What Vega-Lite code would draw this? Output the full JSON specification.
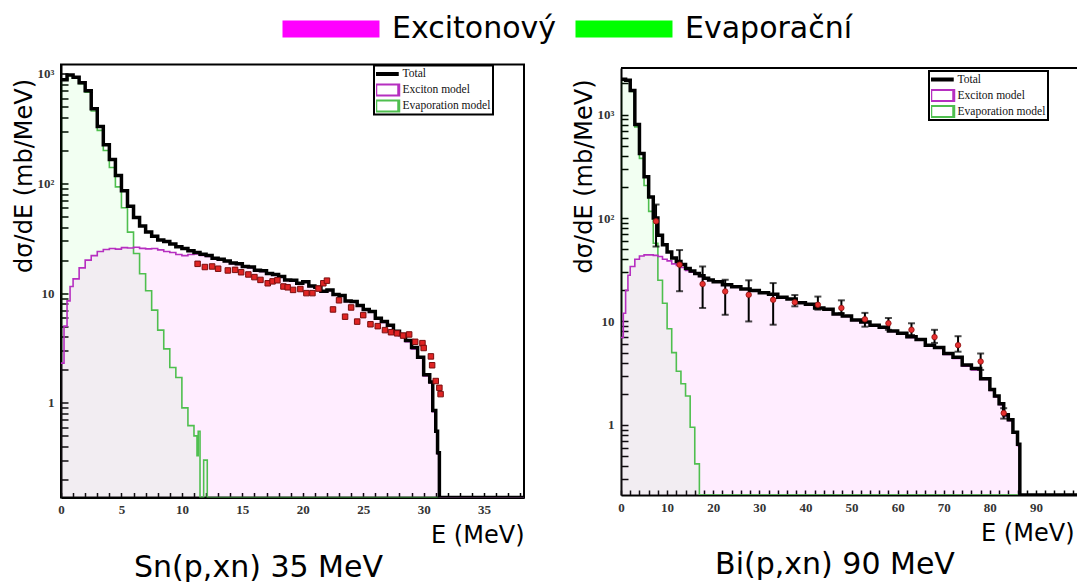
{
  "$schema": "https://vega.github.io/schema/vega-lite/v6.json",
  "background": "white",
  "padding": {"left": 11, "top": 13.5, "right": 0, "bottom": 0},
  "spacing": 47,
  "center": true,
  "datasets": {
    "snTotal": [
      {"E": 0, "v": 880}, {"E": 0.5, "v": 975}, {"E": 1, "v": 930}, {"E": 1.5, "v": 830}, {"E": 2, "v": 700},
      {"E": 2.5, "v": 480}, {"E": 3, "v": 330}, {"E": 3.5, "v": 225}, {"E": 4, "v": 165}, {"E": 4.5, "v": 118},
      {"E": 5, "v": 86}, {"E": 5.5, "v": 62}, {"E": 6, "v": 49}, {"E": 6.5, "v": 41}, {"E": 7, "v": 36},
      {"E": 7.5, "v": 33}, {"E": 8, "v": 30.5}, {"E": 8.5, "v": 29.5}, {"E": 9, "v": 28}, {"E": 9.5, "v": 26.5},
      {"E": 10, "v": 25.5}, {"E": 10.5, "v": 24.3}, {"E": 11, "v": 23.5}, {"E": 11.5, "v": 22.6}, {"E": 12, "v": 22},
      {"E": 12.5, "v": 20.8}, {"E": 13, "v": 20.4}, {"E": 13.5, "v": 19.6}, {"E": 14, "v": 18.8}, {"E": 14.5, "v": 18.5},
      {"E": 15, "v": 17.5}, {"E": 15.5, "v": 17.3}, {"E": 16, "v": 16.2}, {"E": 16.5, "v": 16}, {"E": 17, "v": 15.1},
      {"E": 17.5, "v": 14.8}, {"E": 18, "v": 14.2}, {"E": 18.5, "v": 13.2}, {"E": 19, "v": 13.1}, {"E": 19.5, "v": 12.3},
      {"E": 20, "v": 12.7}, {"E": 20.5, "v": 11.6}, {"E": 21, "v": 11.3}, {"E": 21.5, "v": 10.4}, {"E": 22, "v": 10.7},
      {"E": 22.5, "v": 9.7}, {"E": 23, "v": 9.5}, {"E": 23.5, "v": 8.5}, {"E": 24, "v": 8.4}, {"E": 24.5, "v": 7.7},
      {"E": 25, "v": 7.1}, {"E": 25.5, "v": 6.8}, {"E": 26, "v": 5.9}, {"E": 26.5, "v": 5.5}, {"E": 27, "v": 5.1},
      {"E": 27.5, "v": 4.5}, {"E": 28, "v": 4.2}, {"E": 28.5, "v": 3.7}, {"E": 29, "v": 3.2}, {"E": 29.5, "v": 2.6},
      {"E": 30, "v": 1.8}, {"E": 30.5, "v": 1.55}, {"E": 30.75, "v": 0.85}, {"E": 31, "v": 0.55}, {"E": 31.15, "v": 0.35},
      {"E": 31.3, "v": 0.137}, {"E": 38.3, "v": 0.137}
    ],
    "snExc": [
      {"E": 0, "v": 2.3}, {"E": 0.25, "v": 5}, {"E": 0.5, "v": 8.5}, {"E": 0.75, "v": 11.5}, {"E": 1, "v": 13.5},
      {"E": 1.5, "v": 17}, {"E": 2, "v": 20}, {"E": 2.5, "v": 22}, {"E": 3, "v": 24}, {"E": 3.5, "v": 25},
      {"E": 4, "v": 25.5}, {"E": 4.5, "v": 25.2}, {"E": 5, "v": 26}, {"E": 5.5, "v": 25.8}, {"E": 6, "v": 26.2},
      {"E": 6.5, "v": 25.6}, {"E": 7, "v": 25.3}, {"E": 7.5, "v": 25.5}, {"E": 8, "v": 24.8}, {"E": 8.5, "v": 24},
      {"E": 9, "v": 23.5}, {"E": 9.5, "v": 22.5}, {"E": 10, "v": 22}, {"E": 10.5, "v": 22.5}, {"E": 11, "v": 22.8},
      {"E": 11.5, "v": 22.1}, {"E": 12, "v": 21.6}, {"E": 12.5, "v": 20.5}, {"E": 13, "v": 20.1}, {"E": 13.5, "v": 19.4},
      {"E": 14, "v": 18.6}, {"E": 14.5, "v": 18.3}, {"E": 15, "v": 17.3}, {"E": 15.5, "v": 17.1}, {"E": 16, "v": 16},
      {"E": 16.5, "v": 15.8}, {"E": 17, "v": 15}, {"E": 17.5, "v": 14.6}, {"E": 18, "v": 14.1}, {"E": 18.5, "v": 13.1},
      {"E": 19, "v": 13}, {"E": 19.5, "v": 12.2}, {"E": 20, "v": 12.6}, {"E": 20.5, "v": 11.5}, {"E": 21, "v": 11.2},
      {"E": 21.5, "v": 10.3}, {"E": 22, "v": 10.6}, {"E": 22.5, "v": 9.6}, {"E": 23, "v": 9.4}, {"E": 23.5, "v": 8.4},
      {"E": 24, "v": 8.3}, {"E": 24.5, "v": 7.6}, {"E": 25, "v": 7}, {"E": 25.5, "v": 6.7}, {"E": 26, "v": 5.8},
      {"E": 26.5, "v": 5.4}, {"E": 27, "v": 5}, {"E": 27.5, "v": 4.4}, {"E": 28, "v": 4.1}, {"E": 28.5, "v": 3.6},
      {"E": 29, "v": 3.1}, {"E": 29.5, "v": 2.55}, {"E": 30, "v": 1.76}, {"E": 30.5, "v": 1.52}, {"E": 30.75, "v": 0.83},
      {"E": 31, "v": 0.54}, {"E": 31.15, "v": 0.34}, {"E": 31.3, "v": 0.137}, {"E": 38.3, "v": 0.137}
    ],
    "snEvap": [
      {"E": 0, "v": 875}, {"E": 0.5, "v": 965}, {"E": 1, "v": 915}, {"E": 1.5, "v": 812}, {"E": 2, "v": 680},
      {"E": 2.5, "v": 458}, {"E": 3, "v": 305}, {"E": 3.5, "v": 200}, {"E": 4, "v": 140}, {"E": 4.5, "v": 93},
      {"E": 5, "v": 60}, {"E": 5.5, "v": 36}, {"E": 6, "v": 23}, {"E": 6.5, "v": 15}, {"E": 7, "v": 10.5},
      {"E": 7.5, "v": 7}, {"E": 8, "v": 4.6}, {"E": 8.5, "v": 3.1}, {"E": 9, "v": 2.1}, {"E": 9.5, "v": 1.7},
      {"E": 10, "v": 0.9}, {"E": 10.5, "v": 0.62}, {"E": 11, "v": 0.5}, {"E": 11.25, "v": 0.33}, {"E": 11.35, "v": 0.55},
      {"E": 11.5, "v": 0.137}, {"E": 11.8, "v": 0.3}, {"E": 12.1, "v": 0.137}, {"E": 38.3, "v": 0.137}
    ],
    "snData": [
      {"E": 11.3, "v": 18.5}, {"E": 11.9, "v": 17.3}, {"E": 12.5, "v": 17.5}, {"E": 13.0, "v": 16.7}, {"E": 13.8, "v": 16.1},
      {"E": 14.4, "v": 16.3}, {"E": 14.9, "v": 15.5}, {"E": 15.5, "v": 14.8}, {"E": 16.0, "v": 14.0}, {"E": 16.5, "v": 13.2},
      {"E": 17.1, "v": 12.3}, {"E": 17.5, "v": 12.8}, {"E": 17.9, "v": 13.1}, {"E": 18.4, "v": 11.5}, {"E": 18.75, "v": 11.3},
      {"E": 19.2, "v": 10.7}, {"E": 19.8, "v": 10.9}, {"E": 20.3, "v": 10.0}, {"E": 20.8, "v": 10.0}, {"E": 21.3, "v": 11.0},
      {"E": 21.7, "v": 12.3}, {"E": 22.0, "v": 13.0}, {"E": 22.5, "v": 7.1}, {"E": 23.0, "v": 8.6}, {"E": 23.5, "v": 6.1},
      {"E": 24.0, "v": 7.4}, {"E": 24.5, "v": 5.5}, {"E": 25.0, "v": 6.3}, {"E": 25.6, "v": 5.2}, {"E": 26.2, "v": 5.0},
      {"E": 26.8, "v": 4.6}, {"E": 27.3, "v": 4.4}, {"E": 27.8, "v": 4.3}, {"E": 28.3, "v": 4.1}, {"E": 28.8, "v": 4.2},
      {"E": 29.3, "v": 3.6}, {"E": 29.9, "v": 3.5}, {"E": 30.0, "v": 3.16}, {"E": 30.6, "v": 2.65}, {"E": 30.7, "v": 2.2},
      {"E": 31.0, "v": 1.58}, {"E": 31.3, "v": 1.37}, {"E": 31.4, "v": 1.2}
    ],
    "biTotal": [
      {"E": 0, "v": 2200}, {"E": 1, "v": 2150}, {"E": 2, "v": 1710}, {"E": 3, "v": 800}, {"E": 4, "v": 420},
      {"E": 5, "v": 250}, {"E": 6, "v": 160}, {"E": 7, "v": 100}, {"E": 8, "v": 68}, {"E": 9, "v": 55},
      {"E": 10, "v": 47}, {"E": 11, "v": 41}, {"E": 12, "v": 38}, {"E": 13, "v": 35.5}, {"E": 14, "v": 32.5},
      {"E": 15, "v": 30.8}, {"E": 16, "v": 29}, {"E": 17, "v": 27.6}, {"E": 18, "v": 26.2}, {"E": 19, "v": 25.2},
      {"E": 20, "v": 24.2}, {"E": 22, "v": 22.6}, {"E": 24, "v": 21.7}, {"E": 26, "v": 20.6}, {"E": 28, "v": 19.9},
      {"E": 30, "v": 18.9}, {"E": 32, "v": 18.3}, {"E": 34, "v": 17.1}, {"E": 36, "v": 16.5}, {"E": 38, "v": 15.2},
      {"E": 40, "v": 14.7}, {"E": 42, "v": 13.5}, {"E": 44, "v": 13.1}, {"E": 46, "v": 11.8}, {"E": 48, "v": 11.3},
      {"E": 50, "v": 10.3}, {"E": 52, "v": 9.9}, {"E": 54, "v": 9.2}, {"E": 56, "v": 8.8}, {"E": 58, "v": 8.1},
      {"E": 60, "v": 7.7}, {"E": 62, "v": 7.1}, {"E": 64, "v": 6.7}, {"E": 66, "v": 5.9}, {"E": 68, "v": 5.6},
      {"E": 70, "v": 4.9}, {"E": 72, "v": 4.5}, {"E": 74, "v": 3.8}, {"E": 76, "v": 3.5}, {"E": 78, "v": 2.8},
      {"E": 80, "v": 2.2}, {"E": 81, "v": 1.9}, {"E": 82, "v": 1.6}, {"E": 83, "v": 1.25}, {"E": 84, "v": 1.12},
      {"E": 85, "v": 0.85}, {"E": 86, "v": 0.65}, {"E": 86.5, "v": 0.21}, {"E": 98.9, "v": 0.21}
    ],
    "biExc": [
      {"E": 0, "v": 7}, {"E": 0.5, "v": 12}, {"E": 1, "v": 20}, {"E": 1.5, "v": 28}, {"E": 2, "v": 34},
      {"E": 3, "v": 40}, {"E": 4, "v": 43}, {"E": 5, "v": 44}, {"E": 6, "v": 44}, {"E": 7, "v": 43.5},
      {"E": 8, "v": 42.5}, {"E": 9, "v": 40}, {"E": 10, "v": 38.5}, {"E": 11, "v": 36}, {"E": 12, "v": 34.7},
      {"E": 13, "v": 33.2}, {"E": 14, "v": 31.2}, {"E": 15, "v": 30}, {"E": 16, "v": 28.6}, {"E": 17, "v": 27.3},
      {"E": 18, "v": 26}, {"E": 19, "v": 25}, {"E": 20, "v": 24.1}, {"E": 22, "v": 22.5}, {"E": 24, "v": 21.6},
      {"E": 26, "v": 20.5}, {"E": 28, "v": 19.8}, {"E": 30, "v": 18.8}, {"E": 32, "v": 18.2}, {"E": 34, "v": 17},
      {"E": 36, "v": 16.4}, {"E": 38, "v": 15.1}, {"E": 40, "v": 14.6}, {"E": 42, "v": 13.4}, {"E": 44, "v": 13},
      {"E": 46, "v": 11.7}, {"E": 48, "v": 11.2}, {"E": 50, "v": 10.2}, {"E": 52, "v": 9.8}, {"E": 54, "v": 9.1},
      {"E": 56, "v": 8.7}, {"E": 58, "v": 8}, {"E": 60, "v": 7.6}, {"E": 62, "v": 7}, {"E": 64, "v": 6.6},
      {"E": 66, "v": 5.8}, {"E": 68, "v": 5.5}, {"E": 70, "v": 4.8}, {"E": 72, "v": 4.4}, {"E": 74, "v": 3.7},
      {"E": 76, "v": 3.4}, {"E": 78, "v": 2.75}, {"E": 80, "v": 2.15}, {"E": 81, "v": 1.86}, {"E": 82, "v": 1.57},
      {"E": 83, "v": 1.22}, {"E": 84, "v": 1.1}, {"E": 85, "v": 0.83}, {"E": 86, "v": 0.63}, {"E": 86.5, "v": 0.21},
      {"E": 98.9, "v": 0.21}
    ],
    "biEvap": [
      {"E": 0, "v": 2190}, {"E": 1, "v": 2130}, {"E": 2, "v": 1670}, {"E": 3, "v": 760}, {"E": 4, "v": 377},
      {"E": 5, "v": 206}, {"E": 6, "v": 116}, {"E": 7, "v": 57}, {"E": 8, "v": 25}, {"E": 9, "v": 15},
      {"E": 10, "v": 8.5}, {"E": 11, "v": 5}, {"E": 12, "v": 3.3}, {"E": 13, "v": 2.5}, {"E": 14, "v": 1.9},
      {"E": 15, "v": 0.95}, {"E": 16, "v": 0.42}, {"E": 17, "v": 0.21}, {"E": 98.9, "v": 0.21}
    ],
    "biData": [
      {"E": 7.6, "v": 93, "lo": 53, "hi": 135},
      {"E": 12.7, "v": 35.4, "lo": 19.6, "hi": 49},
      {"E": 17.7, "v": 23, "lo": 13.5, "hi": 34},
      {"E": 22.6, "v": 19.5, "lo": 11.6, "hi": 25.3},
      {"E": 27.7, "v": 18.1, "lo": 10, "hi": 25},
      {"E": 33.0, "v": 16.2, "lo": 9.3, "hi": 23.5},
      {"E": 37.7, "v": 15.3, "lo": 14, "hi": 18},
      {"E": 42.7, "v": 14.5, "lo": 13, "hi": 17.4},
      {"E": 47.8, "v": 13.5, "lo": 12, "hi": 16},
      {"E": 52.9, "v": 10.5, "lo": 8.9, "hi": 12.1},
      {"E": 58.0, "v": 9.6, "lo": 8.3, "hi": 10.8},
      {"E": 63.0, "v": 8.3, "lo": 7.4, "hi": 9.6},
      {"E": 68.0, "v": 7.06, "lo": 6.2, "hi": 8.3},
      {"E": 73.1, "v": 5.9, "lo": 5.1, "hi": 7.2},
      {"E": 78.0, "v": 4.1, "lo": 3.4, "hi": 4.9},
      {"E": 83.0, "v": 1.3, "lo": 1.15, "hi": 1.45}
    ]
  },
  "hconcat": [
    {
      "width": 463,
      "height": 433,
      "title": {"text": "Sn(p,xn) 35 MeV", "orient": "bottom", "anchor": "middle", "frame": "group", "dx": -34, "offset": 5},
      "encoding": {
        "x": {
          "field": "E", "type": "quantitative",
          "scale": {"domain": [0, 38.3], "nice": false, "zero": false},
          "axis": {
            "values": [0,1,2,3,4,5,6,7,8,9,10,11,12,13,14,15,16,17,18,19,20,21,22,23,24,25,26,27,28,29,30,31,32,33,34,35,36,37,38],
            "labelExpr": "datum.value % 5 === 0 ? datum.label : ''",
            "labelFlush": false, "labelOverlap": false,
            "tickSize": -5, "labelPadding": 11,
            "title": "E (MeV)", "titleAnchor": "end", "titleAlign": "right", "titleBaseline": "alphabetic",
            "titleX": 463, "titleY": 45,
            "encode": {"ticks": {"update": {"y2": {"signal": "datum.value % 5 === 0 ? -11 : -5"}}}}
          }
        },
        "y": {
          "field": "v", "type": "quantitative", "stack": null,
          "scale": {"type": "log", "domain": [0.137, 1215], "nice": false},
          "axis": {
            "values": [0.2,0.3,0.4,0.5,0.6,0.7,0.8,0.9,1,2,3,4,5,6,7,8,9,10,20,30,40,50,60,70,80,90,100,200,300,400,500,600,700,800,900,1000],
            "labelExpr": "datum.value === 1 ? '1' : datum.value === 10 ? '10' : datum.value === 100 ? '10²' : datum.value === 1000 ? '10³' : ''",
            "labelOverlap": false,
            "tickSize": -7, "labelPadding": 14,
            "title": "dσ/dE (mb/MeV)", "titleAngle": 270, "titleAlign": "right", "titleBaseline": "middle",
            "titleX": -37, "titleY": 14,
            "encode": {"ticks": {"update": {"x2": {"signal": "abs(log(datum.value)/LN10 - round(log(datum.value)/LN10)) < 0.001 ? 14 : 7"}}}}
          }
        }
      },
      "layer": [
        {
          "data": {"name": "snExc"},
          "mark": {"type": "area", "interpolate": "step-after", "fillOpacity": 0.07, "clip": true},
          "encoding": {
            "y2": {"datum": 0.137},
            "fill": {"datum": "Excitonový", "type": "nominal",
              "scale": {"domain": ["Excitonový", "Evaporační"], "range": ["#ff00ff", "#00ff00"]},
              "legend": {"orient": "none", "legendX": 215, "legendY": -50.5, "direction": "horizontal", "title": null, "padding": 0,
                "symbolType": "M-1,-1h11.41v2h-11.41z", "symbolSize": 289, "labelFont": "DejaVu Sans", "labelFontSize": 30,
                "labelColor": "black", "labelOffset": 86, "columnPadding": 12, "labelLimit": 400,
                "encode": {"symbols": {"update": {"fillOpacity": {"value": 1}, "opacity": {"value": 1}, "strokeWidth": {"value": 0}}}}}}
          }
        },
        {
          "data": {"name": "snEvap"},
          "mark": {"type": "area", "interpolate": "step-after", "fillOpacity": 0.05, "clip": true},
          "encoding": {
            "y2": {"datum": 0.137},
            "fill": {"datum": "Evaporační", "type": "nominal",
              "scale": {"domain": ["Excitonový", "Evaporační"], "range": ["#ff00ff", "#00ff00"]},
              "legend": {"orient": "none", "legendX": 215, "legendY": -50.5, "direction": "horizontal", "title": null, "padding": 0,
                "symbolType": "M-1,-1h11.41v2h-11.41z", "symbolSize": 289, "labelFont": "DejaVu Sans", "labelFontSize": 30,
                "labelColor": "black", "labelOffset": 86, "columnPadding": 12, "labelLimit": 400,
                "encode": {"symbols": {"update": {"fillOpacity": {"value": 1}, "opacity": {"value": 1}, "strokeWidth": {"value": 0}}}}}}
          }
        },
        {
          "data": {"name": "snEvap"},
          "mark": {"type": "line", "interpolate": "step-after", "strokeWidth": 1.6, "clip": true},
          "encoding": {
            "stroke": {"datum": "Evaporation model", "type": "nominal",
              "scale": {"domain": ["Total", "Exciton model", "Evaporation model"], "range": ["black", "#b62fc0", "#4fbf4f"]},
              "legend": {"orient": "none", "legendX": 313, "legendY": 1, "title": null, "padding": 2, "rowPadding": 3, "clipHeight": 13,
                "strokeColor": "black", "fillColor": "white", "symbolType": "M-1,-1h3.833v2h-3.833z", "symbolSize": 144,
                "symbolStrokeWidth": 3, "labelFont": "Liberation Serif", "labelFontSize": 11.5, "labelColor": "#111", "labelOffset": 15,
                "encode": {
                  "legend": {"update": {"strokeWidth": {"value": 2}}},
                  "symbols": {"update": {
                    "shape": {"signal": "datum.value === 'Total' ? 'M-1,0h3.833' : 'M-1,-1h3.833v2h-3.833z'"},
                    "strokeWidth": {"signal": "datum.value === 'Total' ? 4 : 3"},
                    "fill": {"value": "white"}, "fillOpacity": {"value": 1}, "opacity": {"value": 1}}}}}}
          }
        },
        {
          "data": {"name": "snExc"},
          "mark": {"type": "line", "interpolate": "step-after", "strokeWidth": 1.6, "clip": true},
          "encoding": {
            "stroke": {"datum": "Exciton model", "type": "nominal",
              "scale": {"domain": ["Total", "Exciton model", "Evaporation model"], "range": ["black", "#b62fc0", "#4fbf4f"]},
              "legend": {"orient": "none", "legendX": 313, "legendY": 1, "title": null, "padding": 2, "rowPadding": 3, "clipHeight": 13,
                "strokeColor": "black", "fillColor": "white", "symbolType": "M-1,-1h3.833v2h-3.833z", "symbolSize": 144,
                "symbolStrokeWidth": 3, "labelFont": "Liberation Serif", "labelFontSize": 11.5, "labelColor": "#111", "labelOffset": 15,
                "encode": {
                  "legend": {"update": {"strokeWidth": {"value": 2}}},
                  "symbols": {"update": {
                    "shape": {"signal": "datum.value === 'Total' ? 'M-1,0h3.833' : 'M-1,-1h3.833v2h-3.833z'"},
                    "strokeWidth": {"signal": "datum.value === 'Total' ? 4 : 3"},
                    "fill": {"value": "white"}, "fillOpacity": {"value": 1}, "opacity": {"value": 1}}}}}}
          }
        },
        {
          "data": {"name": "snTotal"},
          "mark": {"type": "line", "interpolate": "step-after", "strokeWidth": 3.5, "clip": true},
          "encoding": {
            "stroke": {"datum": "Total", "type": "nominal",
              "scale": {"domain": ["Total", "Exciton model", "Evaporation model"], "range": ["black", "#b62fc0", "#4fbf4f"]},
              "legend": {"orient": "none", "legendX": 313, "legendY": 1, "title": null, "padding": 2, "rowPadding": 3, "clipHeight": 13,
                "strokeColor": "black", "fillColor": "white", "symbolType": "M-1,-1h3.833v2h-3.833z", "symbolSize": 144,
                "symbolStrokeWidth": 3, "labelFont": "Liberation Serif", "labelFontSize": 11.5, "labelColor": "#111", "labelOffset": 15,
                "encode": {
                  "legend": {"update": {"strokeWidth": {"value": 2}}},
                  "symbols": {"update": {
                    "shape": {"signal": "datum.value === 'Total' ? 'M-1,0h3.833' : 'M-1,-1h3.833v2h-3.833z'"},
                    "strokeWidth": {"signal": "datum.value === 'Total' ? 4 : 3"},
                    "fill": {"value": "white"}, "fillOpacity": {"value": 1}, "opacity": {"value": 1}}}}}}
          }
        },
        {
          "data": {"name": "snData"},
          "mark": {"type": "point", "shape": "square", "filled": true, "size": 30, "color": "#e02424", "stroke": "#7a0e0e", "strokeWidth": 1, "opacity": 1, "clip": true}
        }
      ]
    },
    {
      "width": 456,
      "height": 427,
      "view": {"stroke": null},
      "title": {"text": "Bi(p,xn) 90 MeV", "orient": "bottom", "anchor": "middle", "frame": "group", "dx": -14, "offset": 5},
      "encoding": {
        "x": {
          "field": "E", "type": "quantitative",
          "scale": {"domain": [0, 98.9], "nice": false, "zero": false},
          "axis": {
            "values": [0,2,4,6,8,10,12,14,16,18,20,22,24,26,28,30,32,34,36,38,40,42,44,46,48,50,52,54,56,58,60,62,64,66,68,70,72,74,76,78,80,82,84,86,88,90,92,94,96,98],
            "labelExpr": "datum.value % 10 === 0 ? datum.label : ''",
            "labelFlush": false, "labelOverlap": false,
            "tickSize": -5, "labelPadding": 11,
            "title": "E (MeV)", "titleAnchor": "end", "titleAlign": "right", "titleBaseline": "alphabetic",
            "titleX": 453, "titleY": 45,
            "encode": {"ticks": {"update": {"y2": {"signal": "datum.value % 10 === 0 ? -11 : -5"}}}}
          }
        },
        "y": {
          "field": "v", "type": "quantitative", "stack": null,
          "scale": {"type": "log", "domain": [0.21, 2820], "nice": false},
          "axis": {
            "values": [0.3,0.4,0.5,0.6,0.7,0.8,0.9,1,2,3,4,5,6,7,8,9,10,20,30,40,50,60,70,80,90,100,200,300,400,500,600,700,800,900,1000,2000],
            "labelExpr": "datum.value === 1 ? '1' : datum.value === 10 ? '10' : datum.value === 100 ? '10²' : datum.value === 1000 ? '10³' : ''",
            "labelOverlap": false,
            "tickSize": -7, "labelPadding": 14,
            "title": "dσ/dE (mb/MeV)", "titleAngle": 270, "titleAlign": "right", "titleBaseline": "middle",
            "titleX": -37, "titleY": 11,
            "encode": {"ticks": {"update": {"x2": {"signal": "abs(log(datum.value)/LN10 - round(log(datum.value)/LN10)) < 0.001 ? 14 : 7"}}}}
          }
        }
      },
      "layer": [
        {
          "data": {"name": "biExc"},
          "mark": {"type": "area", "interpolate": "step-after", "fillOpacity": 0.07, "clip": true},
          "encoding": {
            "y2": {"datum": 0.21},
            "fill": {"datum": "Excitonový", "type": "nominal",
              "scale": {"domain": ["Excitonový", "Evaporační"], "range": ["#ff00ff", "#00ff00"]},
              "legend": {"orient": "none", "legendX": 215, "legendY": -50.5, "direction": "horizontal", "title": null, "padding": 0,
                "symbolType": "M-1,-1h11.41v2h-11.41z", "symbolSize": 289, "labelFont": "DejaVu Sans", "labelFontSize": 30,
                "labelColor": "black", "labelOffset": 86, "columnPadding": 12, "labelLimit": 400,
                "encode": {"symbols": {"update": {"fillOpacity": {"value": 1}, "opacity": {"value": 1}, "strokeWidth": {"value": 0}}}}}}
          }
        },
        {
          "data": {"name": "biEvap"},
          "mark": {"type": "area", "interpolate": "step-after", "fillOpacity": 0.05, "clip": true},
          "encoding": {
            "y2": {"datum": 0.21},
            "fill": {"datum": "Evaporační", "type": "nominal",
              "scale": {"domain": ["Excitonový", "Evaporační"], "range": ["#ff00ff", "#00ff00"]},
              "legend": {"orient": "none", "legendX": 215, "legendY": -50.5, "direction": "horizontal", "title": null, "padding": 0,
                "symbolType": "M-1,-1h11.41v2h-11.41z", "symbolSize": 289, "labelFont": "DejaVu Sans", "labelFontSize": 30,
                "labelColor": "black", "labelOffset": 86, "columnPadding": 12, "labelLimit": 400,
                "encode": {"symbols": {"update": {"fillOpacity": {"value": 1}, "opacity": {"value": 1}, "strokeWidth": {"value": 0}}}}}}
          }
        },
        {
          "data": {"name": "biEvap"},
          "mark": {"type": "line", "interpolate": "step-after", "strokeWidth": 1.6, "clip": true},
          "encoding": {
            "stroke": {"datum": "Evaporation model", "type": "nominal",
              "scale": {"domain": ["Total", "Exciton model", "Evaporation model"], "range": ["black", "#b62fc0", "#4fbf4f"]},
              "legend": {"orient": "none", "legendX": 308, "legendY": 3, "title": null, "padding": 2, "rowPadding": 3, "clipHeight": 13,
                "strokeColor": "black", "fillColor": "white", "symbolType": "M-1,-1h3.833v2h-3.833z", "symbolSize": 144,
                "symbolStrokeWidth": 3, "labelFont": "Liberation Serif", "labelFontSize": 11.5, "labelColor": "#111", "labelOffset": 15,
                "encode": {
                  "legend": {"update": {"strokeWidth": {"value": 2}}},
                  "symbols": {"update": {
                    "shape": {"signal": "datum.value === 'Total' ? 'M-1,0h3.833' : 'M-1,-1h3.833v2h-3.833z'"},
                    "strokeWidth": {"signal": "datum.value === 'Total' ? 4 : 3"},
                    "fill": {"value": "white"}, "fillOpacity": {"value": 1}, "opacity": {"value": 1}}}}}}
          }
        },
        {
          "data": {"name": "biExc"},
          "mark": {"type": "line", "interpolate": "step-after", "strokeWidth": 1.6, "clip": true},
          "encoding": {
            "stroke": {"datum": "Exciton model", "type": "nominal",
              "scale": {"domain": ["Total", "Exciton model", "Evaporation model"], "range": ["black", "#b62fc0", "#4fbf4f"]},
              "legend": {"orient": "none", "legendX": 308, "legendY": 3, "title": null, "padding": 2, "rowPadding": 3, "clipHeight": 13,
                "strokeColor": "black", "fillColor": "white", "symbolType": "M-1,-1h3.833v2h-3.833z", "symbolSize": 144,
                "symbolStrokeWidth": 3, "labelFont": "Liberation Serif", "labelFontSize": 11.5, "labelColor": "#111", "labelOffset": 15,
                "encode": {
                  "legend": {"update": {"strokeWidth": {"value": 2}}},
                  "symbols": {"update": {
                    "shape": {"signal": "datum.value === 'Total' ? 'M-1,0h3.833' : 'M-1,-1h3.833v2h-3.833z'"},
                    "strokeWidth": {"signal": "datum.value === 'Total' ? 4 : 3"},
                    "fill": {"value": "white"}, "fillOpacity": {"value": 1}, "opacity": {"value": 1}}}}}}
          }
        },
        {
          "data": {"name": "biTotal"},
          "mark": {"type": "line", "interpolate": "step-after", "strokeWidth": 3.5, "clip": true},
          "encoding": {
            "stroke": {"datum": "Total", "type": "nominal",
              "scale": {"domain": ["Total", "Exciton model", "Evaporation model"], "range": ["black", "#b62fc0", "#4fbf4f"]},
              "legend": {"orient": "none", "legendX": 308, "legendY": 3, "title": null, "padding": 2, "rowPadding": 3, "clipHeight": 13,
                "strokeColor": "black", "fillColor": "white", "symbolType": "M-1,-1h3.833v2h-3.833z", "symbolSize": 144,
                "symbolStrokeWidth": 3, "labelFont": "Liberation Serif", "labelFontSize": 11.5, "labelColor": "#111", "labelOffset": 15,
                "encode": {
                  "legend": {"update": {"strokeWidth": {"value": 2}}},
                  "symbols": {"update": {
                    "shape": {"signal": "datum.value === 'Total' ? 'M-1,0h3.833' : 'M-1,-1h3.833v2h-3.833z'"},
                    "strokeWidth": {"signal": "datum.value === 'Total' ? 4 : 3"},
                    "fill": {"value": "white"}, "fillOpacity": {"value": 1}, "opacity": {"value": 1}}}}}}
          }
        },
        {
          "data": {"name": "biData"},
          "mark": {"type": "errorbar", "ticks": {"size": 7, "thickness": 2, "color": "black"}, "rule": {"strokeWidth": 2, "color": "black"}, "clip": true},
          "encoding": {
            "y": {"field": "lo", "type": "quantitative", "scale": {"type": "log", "domain": [0.21, 2820], "nice": false}, "title": "dσ/dE (mb/MeV)"},
            "y2": {"field": "hi"}
          }
        },
        {
          "data": {"name": "biData"},
          "mark": {"type": "point", "shape": "circle", "filled": true, "size": 30, "color": "#e83030", "stroke": "#8a1010", "strokeWidth": 0.8, "opacity": 1, "clip": true}
        },
        {
          "data": {"name": "biTotal"},
          "transform": [{"filter": "datum.E === 0"}],
          "mark": {"type": "rule", "color": "black", "strokeWidth": 2},
          "encoding": {
            "x": {"datum": 0},
            "x2": {"datum": 98.9},
            "y": {"datum": 2820}
          }
        }
      ]
    }
  ],
  "resolve": {"scale": {"stroke": "independent"}, "legend": {"stroke": "independent"}},
  "config": {
    "view": {"stroke": "black", "strokeWidth": 2},
    "axis": {
      "grid": false, "zindex": 1,
      "domainColor": "black", "domainWidth": 2,
      "tickColor": "black", "tickWidth": 1.5,
      "labelFont": "Liberation Serif", "labelFontWeight": "bold", "labelFontSize": 13, "labelColor": "#333",
      "titleFont": "DejaVu Sans", "titleFontWeight": "normal", "titleFontSize": 24, "titleColor": "black"
    },
    "title": {"font": "DejaVu Sans", "fontSize": 30, "fontWeight": "normal", "color": "black"}
  }
}
